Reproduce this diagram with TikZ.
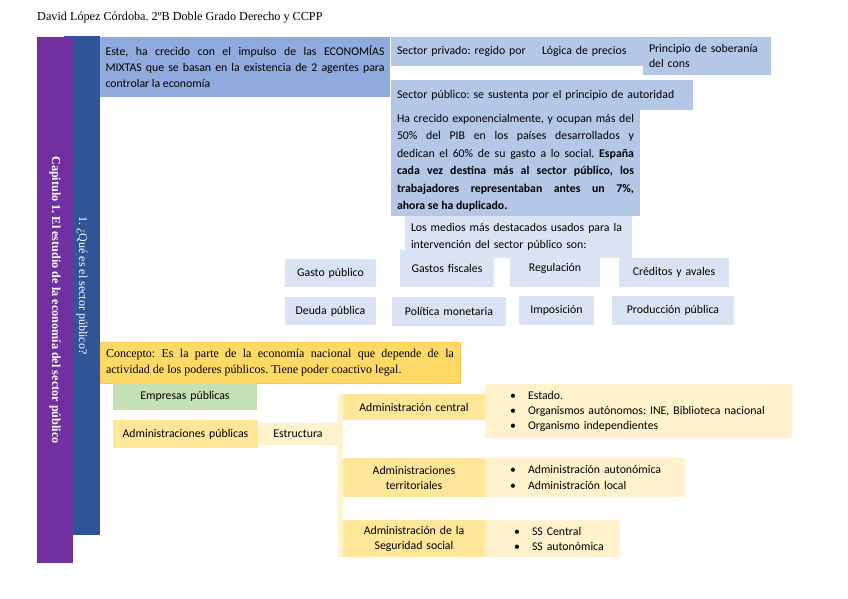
\documentclass[tikz,border=0pt]{standalone}
\usepackage{fontspec}
\setmainfont{Carlito}
\newfontfamily\serifa{Liberation Serif}
\frenchspacing
\definecolor{morado}{HTML}{7030A0}
\definecolor{azul}{HTML}{2F5597}
\definecolor{azulmedio}{HTML}{8FAADC}
\definecolor{azulclaro}{HTML}{B4C7E7}
\definecolor{azulpalido}{HTML}{DAE3F3}
\definecolor{oro}{HTML}{FFD966}
\definecolor{amarillo}{HTML}{FFE699}
\definecolor{crema}{HTML}{FFF2CC}
\definecolor{verde}{HTML}{C5E0B4}
\newcommand\vineta[1]{\hspace*{19pt}\makebox[18pt][l]{\textbullet}#1}
\tikzset{
  caja/.style={anchor=north west, inner xsep=6pt, inner ysep=0pt, outer sep=0pt, text=black, font=\fontsize{11.8}{16}\selectfont},
  tam/.style n args={3}{text width=#1, minimum height=#2, align=#3},
  barra/.style={inner sep=0pt, outer sep=0pt, rotate=-90, text=white},
}
\begin{document}
\begin{tikzpicture}[x=1pt,y=-1pt]
        \useasboundingbox (0,0) rectangle (848,599);
        %cabecera
        \node[anchor=west, inner sep=0pt, font=\serifa\fontsize{12.2}{14}\selectfont] (autor) at (37,18) {David López Córdoba. 2ºB Doble Grado Derecho y CCPP};

        %barras laterales
        \node[barra, fill=azul, minimum width=499pt, minimum height=36pt, font=\serifa\fontsize{12}{14}\selectfont] (seccion) at (82,285.5) {1. ¿Qué es el sector público?};
        \node[barra, fill=morado, minimum width=526pt, minimum height=36pt, font=\serifa\bfseries\fontsize{12.2}{14}\selectfont] (capitulo) at (55,300) {Capitulo 1. El estudio de la economía del sector público};

        %sector privado y publico
        \node[caja, tam={279pt}{60pt}{justify}, fill=azulmedio, inner xsep=5.5pt] (econ) at (100,37) {Este, ha crecido con el impulso de las ECONOMÍAS\linebreak MIXTAS que se basan en la existencia de 2 agentes para\linebreak controlar la economía};
        \node[caja, tam={133pt}{29pt}{left}, fill=azulclaro] (privado) at (391,37) {Sector privado: regido por};
        \node[caja, tam={95pt}{29pt}{left}, fill=azulclaro] (logica) at (536,37) {Lógica de precios};
        \node[caja, tam={116pt}{38pt}{left}, fill=azulclaro, font=\fontsize{11.8}{15}\selectfont] (soberania) at (643,37) {Principio de soberanía\\del cons};
        \node[caja, tam={290pt}{30pt}{left}, fill=azulclaro] (publico) at (391,80) {Sector público: se sustenta por el principio de autoridad};
        \node[caja, tam={237pt}{106pt}{justify}, fill=azulclaro, font=\fontsize{11.8}{17.5}\selectfont] (crecido) at (391,110) {Ha crecido exponencialmente, y ocupan más del\linebreak 50\% del PIB en los países desarrollados y\linebreak dedican el 60\% de su gasto a lo social. \textbf{España\linebreak cada vez destina más al sector público, los\linebreak trabajadores representaban antes un 7\%,\linebreak ahora se ha duplicado.}};
        \node[caja, tam={215pt}{42pt}{left}, fill=azulpalido, font=\fontsize{11.8}{17}\selectfont] (medios) at (405,216) {Los medios más destacados usados para la\\intervención del sector público son:};

        %medios de intervencion
        \node[caja, tam={79pt}{28pt}{center}, fill=azulpalido] (gasto) at (285,259) {Gasto público};
        \node[caja, tam={82pt}{37pt}{center}, fill=azulpalido] (fiscales) at (400,250) {Gastos fiscales};
        \node[caja, tam={78pt}{37pt}{center}, fill=azulpalido] (regulacion) at (510,250) {Regulación};
        \node[caja, tam={98pt}{29pt}{center}, fill=azulpalido] (creditos) at (619,258) {Créditos y avales};
        \node[caja, tam={79pt}{28pt}{center}, fill=azulpalido] (deuda) at (285,297) {Deuda pública};
        \node[caja, tam={102pt}{29pt}{center}, fill=azulpalido] (politica) at (392,297) {Política monetaria};
        \node[caja, tam={63pt}{29pt}{center}, fill=azulpalido] (imposicion) at (519,296) {Imposición};
        \node[caja, tam={110pt}{29pt}{center}, fill=azulpalido] (produccion) at (612,296) {Producción pública};

        %concepto
        \node[caja, tam={348pt}{41pt}{justify}, fill=oro, draw=oro!80!orange, line width=0.6pt, font=\serifa\fontsize{12}{16}\selectfont] (concepto) at (100,342) {Concepto: Es la parte de la economía nacional que depende de la\linebreak actividad de los poderes públicos. Tiene poder coactivo legal.};
        \node[caja, tam={132pt}{27pt}{center}, fill=verde] (empresas) at (113,383) {Empresas públicas};
        \node[caja, tam={133pt}{28pt}{center}, fill=amarillo] (adminpub) at (113,420) {Administraciones públicas};
        \node[caja, tam={68pt}{22pt}{center}, fill=crema] (estructura) at (258,423) {Estructura};
        \node[anchor=north west, inner sep=0pt, minimum width=5pt, minimum height=163pt, fill=crema] (llave) at (338,394) {};

        %administraciones
        \node[caja, tam={130pt}{26pt}{center}, fill=amarillo] (central) at (343,394) {Administración central};
        \node[caja, tam={295pt}{54pt}{left}, fill=crema, font=\fontsize{11.8}{15}\selectfont] (centralLista) at (485,384) {\vineta{Estado.}\\\vineta{Organismos autónomos: INE, Biblioteca nacional}\\\vineta{Organismo independientes}};
        \node[caja, tam={130pt}{39pt}{center}, fill=amarillo, font=\fontsize{11.8}{15}\selectfont] (territ) at (343,458) {Administraciones\\territoriales};
        \node[caja, tam={188pt}{39pt}{left}, fill=crema, font=\fontsize{11.8}{15.5}\selectfont] (territLista) at (485,458) {\vineta{Administración autonómica}\\\vineta{Administración local}};
        \node[caja, tam={130pt}{37pt}{center}, fill=amarillo, font=\fontsize{11.8}{15}\selectfont] (segsoc) at (343,520) {Administración de la\\Seguridad social};
        \node[caja, tam={123pt}{37pt}{left}, fill=crema, font=\fontsize{11.8}{15}\selectfont] (segsocLista) at (485,520) {\hspace*{4pt}\vineta{SS Central}\\\hspace*{4pt}\vineta{SS autonómica}};
    \end{tikzpicture}
\end{document}
